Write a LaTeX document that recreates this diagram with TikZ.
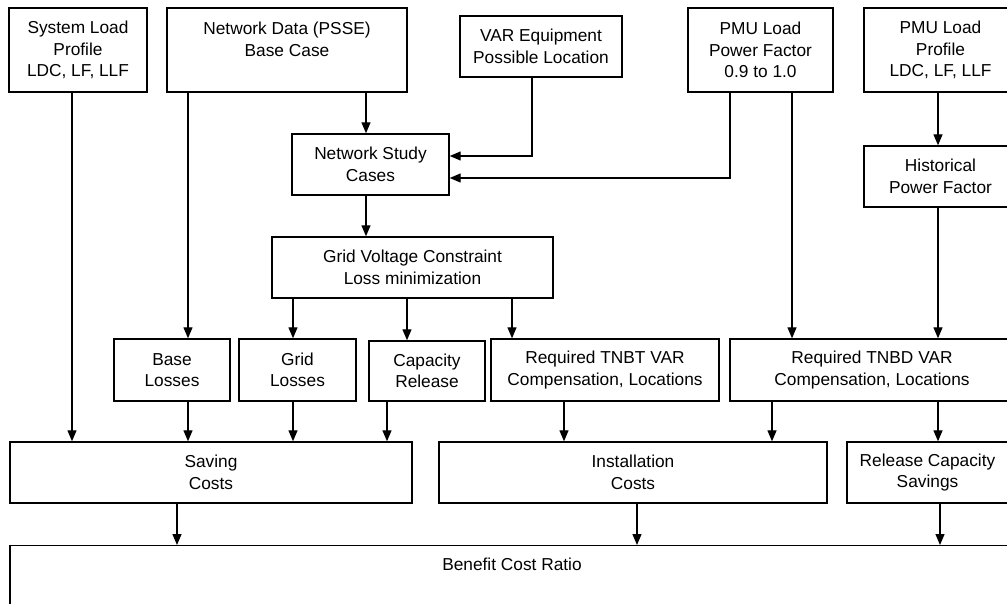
\documentclass[tikz,border=0pt]{standalone}
\usepackage{fontspec}
\setmainfont{Liberation Sans}
\usepackage{tikz}
\usetikzlibrary{arrows.meta}
\usetikzlibrary{positioning}

\tikzset{
	blk/.style={draw, line width=1.4pt, align=center, inner sep=0pt,
		font=\fontsize{17.3}{21.5}\selectfont},
	arr/.style={line width=1.3pt, -{Triangle[length=11pt,width=9pt]}},
	ln/.style={line width=1.3pt}
}

\begin{document}
\begin{tikzpicture}[x=1pt,y=-1pt]

	\useasboundingbox (0,0) rectangle (1007,603);
	\clip (0,0) rectangle (1007,603);

	% inputs
	\node[blk, minimum width=138, minimum height=84] (sload) at (78,50) {System Load\\Profile\\LDC, LF, LLF};
	\node[blk, minimum width=240, minimum height=84] (netdata) at (287,50) {Network Data (PSSE)\\Base Case\\\phantom{X}};
	\node[blk, minimum width=162, minimum height=61] (vareq) at (541,46.5) {VAR Equipment\\Possible Location};
	\node[blk, minimum width=145, minimum height=84] (pmupf) at (760.5,50) {PMU Load\\Power Factor\\0.9 to 1.0};
	\node[blk, minimum width=153, minimum height=84] (pmuprof) at (940.5,50) {PMU Load\\Profile\\LDC, LF, LLF};
	\node[blk, minimum width=153, minimum height=61] (histpf) at (940.5,176.5) {Historical\\Power Factor};

	% study
	\node[blk, minimum width=157, minimum height=61] (netstudy) at (370.5,164.5) {Network Study\\Cases};
	\node[blk, minimum width=281, minimum height=61] (gridv) at (412.5,267.5) {Grid Voltage Constraint\\Loss minimization};

	% results
	\node[blk, minimum width=116, minimum height=62] (baseloss) at (172,370) {Base\\Losses};
	\node[blk, minimum width=117, minimum height=62] (gridloss) at (297.5,370) {Grid\\Losses};
	\node[blk, minimum width=116, minimum height=60] (caprel) at (427,371) {Capacity\\Release};
	\node[blk, minimum width=228, minimum height=62] (tnbt) at (605,370) {Required TNBT VAR\\Compensation, Locations};
	\node[blk, minimum width=284, minimum height=62] (tnbd) at (872,370) {Required TNBD VAR\\Compensation, Locations};

	% costs
	\node[blk, minimum width=402, minimum height=61] (saving) at (211,472.5) {Saving\\Costs};
	\node[blk, minimum width=388, minimum height=61] (install) at (633,472.5) {Installation\\Costs};
	\node[blk, minimum width=161, minimum height=61] (release) at (927.5,472.5) {Release Capacity\\Savings};
	\node[blk, align=left, minimum width=1004, text height=25pt, text depth=80pt, anchor=north] (bcr) at (512,545) {Benefit Cost Ratio};

	% connectors
	\draw[arr] ([xshift=-6]sload.south) coordinate (a1) -- (a1 |- saving.north);
	\draw[arr] ([xshift=-99]netdata.south) coordinate (a2) -- (a2 |- baseloss.north);
	\draw[arr] ([xshift=79]netdata.south) coordinate (a3) -- (a3 |- netstudy.north);
	\draw[arr] ([xshift=-9]vareq.south) |- ([yshift=8.5]netstudy.east);
	\draw[arr] ([xshift=-30.5]pmupf.south) |- ([yshift=-13.5]netstudy.east);
	\draw[arr] ([xshift=31.5]pmupf.south) coordinate (a4) -- (a4 |- tnbd.north);
	\draw[arr] ([xshift=-2.5]pmuprof.south) coordinate (a5) -- (a5 |- histpf.north);
	\draw[arr] ([xshift=-2.5]histpf.south) coordinate (a6) -- (a6 |- tnbd.north);
	\draw[arr] ([xshift=-4.5]netstudy.south) coordinate (a7) -- (a7 |- gridv.north);

	\draw[arr] ([xshift=-119.5]gridv.south) coordinate (b1) -- (b1 |- gridloss.north);
	\draw[arr] ([xshift=-5.5]gridv.south) coordinate (b2) -- (b2 |- caprel.north);
	\draw[arr] ([xshift=99.5]gridv.south) coordinate (b3) -- (b3 |- tnbt.north);

	\draw[arr] ([xshift=16]baseloss.south) coordinate (c1) -- (c1 |- saving.north);
	\draw[arr] ([xshift=-4.5]gridloss.south) coordinate (c2) -- (c2 |- saving.north);
	\draw[arr] ([xshift=-40]caprel.south) coordinate (c3) -- (c3 |- saving.north);
	\draw[arr] ([xshift=-41]tnbt.south) coordinate (c4) -- (c4 |- install.north);
	\draw[arr] ([xshift=-100]tnbd.south) coordinate (c5) -- (c5 |- install.north);
	\draw[arr] ([xshift=66]tnbd.south) coordinate (c6) -- (c6 |- release.north);

	\draw[arr] ([xshift=-34]saving.south) coordinate (d1) -- (d1 |- bcr.north);
	\draw[arr] ([xshift=4]install.south) coordinate (d2) -- (d2 |- bcr.north);
	\draw[arr] ([xshift=12.5]release.south) coordinate (d3) -- (d3 |- bcr.north);

\end{tikzpicture}
\end{document}
